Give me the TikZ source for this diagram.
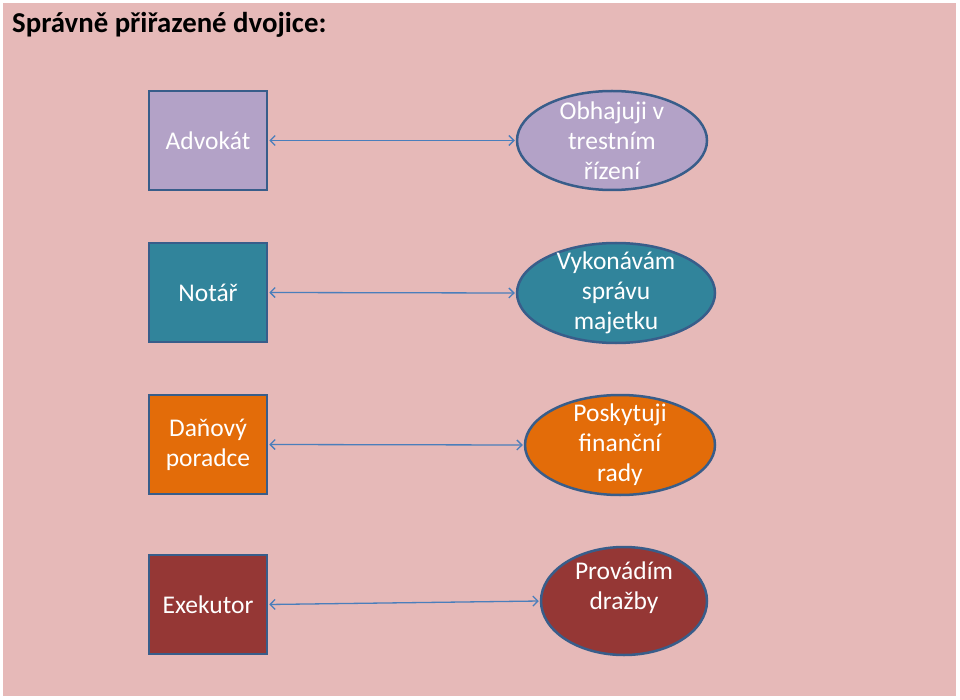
\documentclass[tikz,border=0pt]{standalone}
\usepackage{fontspec}
\setmainfont{Carlito}
\usetikzlibrary{arrows.meta,shapes.geometric}
\definecolor{bgpink}{HTML}{E6B9B8}
\definecolor{lav}{HTML}{B3A2C7}
\definecolor{teal}{HTML}{31849B}
\definecolor{orng}{HTML}{E36C09}
\definecolor{dred}{HTML}{953735}
\definecolor{edge}{HTML}{385D8A}
\definecolor{arr}{HTML}{4A7EBB}
\tikzset{
  box/.style={draw=edge, line width=2.5pt, minimum width=118pt, minimum height=99pt, inner sep=0pt},
  oval/.style={ellipse, draw=edge, line width=2.5pt, inner sep=0pt},
  lbl/.style={text=white, align=center, font=\fontsize{25.5}{30}\selectfont, inner sep=0pt},
  link/.style={draw=arr, line width=1.3pt, {Straight Barb[length=5pt,width=10pt]}-{Straight Barb[length=5pt,width=10pt]}, shorten <=1pt, shorten >=1pt}
}
\begin{document}
\begin{tikzpicture}[x=1pt,y=-1pt]
\useasboundingbox (0,0) rectangle (960,700);
\fill[white] (0,0) rectangle (960,700);
\fill[bgpink] (3,3) rectangle (956,696);
\node[anchor=base west, inner sep=0pt, font=\fontsize{28.8}{32}\selectfont\bfseries] (title) at (12,33) {Správně přiřazené dvojice:};
% left boxes
\node[box, fill=lav] (b1) at (208,140.5) {};
\node[box, fill=teal] (b2) at (208,292.5) {};
\node[box, fill=orng] (b3) at (208,444.5) {};
\node[box, fill=dred] (b4) at (208,604.5) {};
\node[lbl] (t1) at (b1) {Advokát};
\node[lbl] (t2) at (b2) {Notář};
\node[lbl] (t3) at (b3) {Daňový\\poradce};
\node[lbl] (t4) at (b4) {Exekutor};
% ellipses
\node[oval, fill=lav, minimum width=190pt, minimum height=99pt] (e1) at (612,140.5) {};
\node[oval, fill=teal, minimum width=198pt, minimum height=100pt] (e2) at (616,293) {};
\node[oval, fill=orng, minimum width=190pt, minimum height=100pt] (e3) at (620,445) {};
\node[oval, fill=dred, minimum width=166pt, minimum height=108pt] (e4) at (624,601) {};
\node[lbl] (u1) at (612,141) {Obhajuji v\\trestním\\řízení};
\node[lbl] (u2) at (616,293) {Vykonávám\\správu\\majetku};
\node[lbl] (u3) at (620,445) {Poskytuji\\finanční\\rady};
\node[lbl] (u4) at (624,588) {Provádím\\dražby};
% connectors
\draw[link] (b1.east) -- (e1.west);
\draw[link] (b2.east) -- (e2.west);
\draw[link] (b3.east) -- (e3.west);
\draw[link] (b4.east) -- (e4.west);
\end{tikzpicture}
\end{document}
